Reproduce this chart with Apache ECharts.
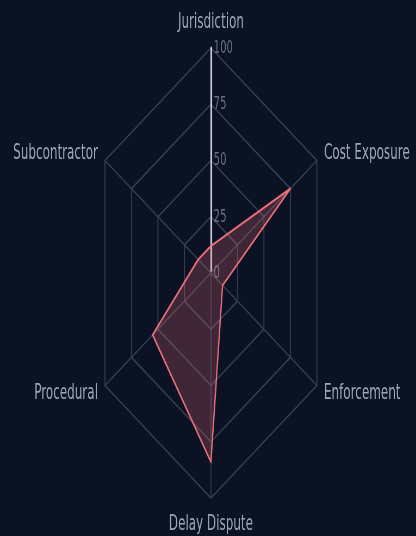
<!DOCTYPE html>
<html>
<head>
<meta charset="utf-8">
<script src="https://cdn.jsdelivr.net/npm/echarts@6/dist/echarts.min.js"></script>
<style>
  html, body { margin: 0; padding: 0; background: #0b1224; overflow: hidden; width: 416px; height: 536px; }
  #chart { width: 765px; height: 536px; transform: scaleX(0.5438); transform-origin: 0 0; }
</style>
</head>
<body>
<div id="chart"></div>
<script>
// Indicators listed counter-clockwise starting at the top (ECharts order)
const categories = ['Jurisdiction', 'Subcontractor', 'Procedural', 'Delay Dispute', 'Enforcement', 'Cost Exposure'];
const seriesValues = [12, 12, 55, 84, 11, 75];
const axisMax = 100;
const tickLabels = ['0', '25', '50', '75', '100'];

const chart = echarts.init(document.getElementById('chart'), null, { renderer: 'canvas' });

const indicator = categories.map(function (name, i) {
  const ind = { name: name, max: axisMax, min: 0 };
  if (i === 0) {
    ind.axisLabel = {
      show: true,
      color: '#687183',
      fontSize: 18.5,
      fontFamily: 'DejaVu Sans',
      margin: -5,
      align: 'left',
      formatter: function (v) { return tickLabels[Math.round(v / 25)] || String(v); }
    };
    ind.axisLine = { lineStyle: { color: '#c6cbd4', width: 3.2 } };
  }
  return ind;
});

chart.setOption({
  backgroundColor: '#0b1224',
  animation: false,
  radar: {
    center: ['50.7%', 273],
    radius: 225,
    startAngle: 90,
    splitNumber: 4,
    shape: 'polygon',
    indicator: indicator,
    nameGap: 15,
    axisName: { color: '#9ea7b9', fontSize: 22, fontFamily: 'DejaVu Sans' },
    axisLine: { lineStyle: { color: '#374053', width: 1.5 } },
    splitLine: { lineStyle: { color: '#374053', width: 1.8 } },
    splitArea: { show: false },
    axisTick: { show: false },
    axisLabel: { show: false }
  },
  series: [{
    type: 'radar',
    symbol: 'none',
    lineStyle: { color: '#ec6f79', width: 2.4 },
    areaStyle: { color: 'rgba(236,111,121,0.33)' },
    data: [{ value: seriesValues, name: 'Risk' }]
  }]
});
</script>
</body>
</html>
